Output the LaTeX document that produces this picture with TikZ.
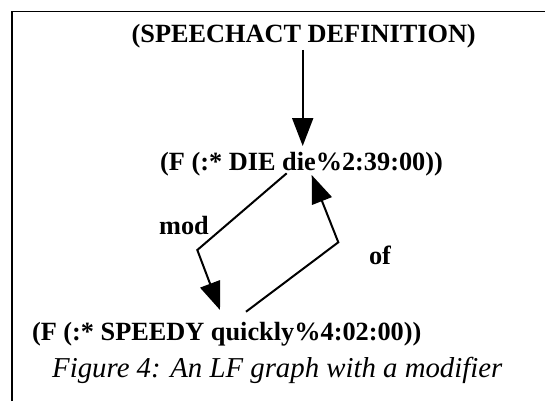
\documentclass[tikz,border=0pt]{standalone}
\usepackage{fontspec}
\setmainfont{Liberation Serif}
\usetikzlibrary{arrows.meta}
\begin{document}
\begin{tikzpicture}[x=1pt,y=-1pt,
  lbl/.style={inner sep=0pt,anchor=base,font=\fontsize{26.3}{30}\selectfont\bfseries},
  captiontext/.style={inner sep=0pt,anchor=base,font=\fontsize{28.8}{32}\selectfont\itshape},
  conn/.style={line width=2pt,-{Triangle[length=28pt,width=21pt]}},
  framebox/.style={line width=1.5pt}]
\useasboundingbox (0,0) rectangle (545,401);
\draw[framebox] (12,401) -- (12,11.5) -- (545,11.5);
\node[lbl] (sa) at (303.7,43) {(SPEECHACT DEFINITION)};
\node[lbl] (die) at (301.5,170) {(F (:* DIE die\%2:39:00))};
\node[lbl] (spd) at (226.7,340) {(F (:* SPEEDY quickly\%4:02:00))};
\node[lbl] (mod) at (184,234) {mod};
\node[lbl] (of) at (380,264) {of};
\node[captiontext] (capt) at (277.3,377) {Figure 4: An LF graph with a modifier};
\coordinate (saout) at (302.7,50);
\coordinate (diein) at (302.7,146);
\coordinate (modout) at (286.7,173.3);
\coordinate (modbend) at (197.3,250);
\coordinate (modin) at (220,310);
\coordinate (ofout) at (246,311.7);
\coordinate (ofbend) at (338.3,242.3);
\coordinate (ofin) at (311.7,175);
\draw[conn] (saout) -- (diein);
\draw[conn] (modout) -- (modbend) -- (modin);
\draw[conn] (ofout) -- (ofbend) -- (ofin);
\end{tikzpicture}
\end{document}
